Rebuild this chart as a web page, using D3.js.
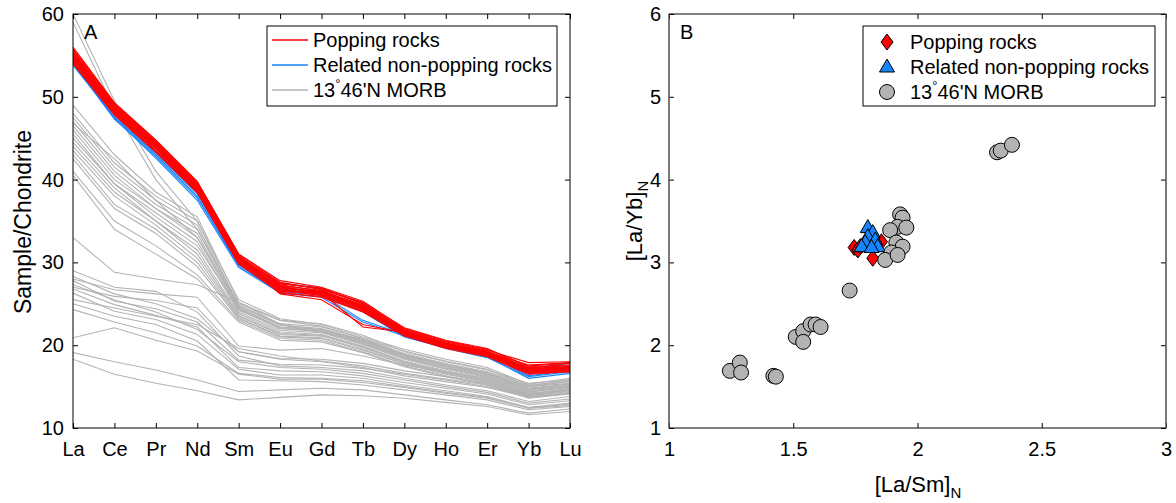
<!DOCTYPE html>
<html>
<head>
<meta charset="utf-8">
<script src="https://cdn.jsdelivr.net/npm/d3@7"></script>
<style>
  body { margin: 0; background: #fff; }
  text { font-family: "Liberation Sans", Arial, Helvetica, sans-serif; fill: #000; }
</style>
</head>
<body>
<svg id="chart" width="1176" height="503"></svg>
<script>
// ---- data ----
var elements = ["La", "Ce", "Pr", "Nd", "Sm", "Eu", "Gd", "Tb", "Dy", "Ho", "Er", "Yb", "Lu"];

// panel A: chondrite-normalized REE patterns
var poppingREE = [
    [56, 49.3, 44.8, 39.8, 31, 27.8, 27, 25.3, 22, 20.5, 19.5, 17.5, 17.8],
    [55.5, 49, 44.5, 39.5, 30.8, 27.5, 26.8, 25, 21.8, 20.3, 19.3, 17.3, 17.5],
    [55, 48.6, 44.2, 39.2, 30.5, 27.2, 26.6, 24.8, 21.6, 20.1, 19.1, 17.1, 17.3],
    [54.8, 48.4, 44, 39, 30.3, 27, 26.4, 24.6, 21.5, 20, 19, 17, 17.2],
    [54.5, 48.2, 43.8, 38.8, 30.1, 26.8, 26.2, 24.4, 21.4, 19.9, 18.9, 16.9, 17.1],
    [54.2, 48, 43.5, 38.6, 30, 26.6, 26, 24.2, 21.3, 19.8, 18.8, 16.8, 17],
    [54, 47.8, 43.3, 38.4, 29.8, 26.4, 25.8, 24, 21.2, 19.7, 18.7, 16.7, 16.9],
    [55.8, 49.2, 44.7, 39.7, 30.9, 26.5, 26.3, 22.2, 21.6, 20.2, 19.2, 17.2, 17.4],
    [55.2, 48.8, 44.3, 39.3, 30.6, 26.2, 25.5, 22.5, 21.5, 20, 19, 17, 17.2],
    [54.6, 48.3, 43.9, 38.9, 30.2, 26.9, 26.5, 24.7, 21.7, 20.2, 19.2, 17.6, 17.9],
    [55.3, 48.9, 44.4, 39.4, 30.7, 27.4, 26.9, 25.1, 21.9, 20.4, 19.4, 17.9, 18],
    [54.4, 48.1, 43.7, 38.7, 30, 27.1, 26.2, 24.5, 21.4, 19.9, 18.8, 16.6, 16.8],
    [55.7, 49.1, 44.6, 39.6, 31, 27.6, 26.7, 25.2, 22.1, 20.6, 19.6, 17.4, 17.6],
    [54.9, 48.5, 44.1, 39.1, 30.4, 26.7, 26.1, 24.3, 21.3, 19.8, 18.9, 16.7, 17],
    [54.1, 47.9, 43.4, 38.5, 29.9, 26.3, 25.9, 24.1, 21.1, 19.6, 18.6, 16.5, 16.8],
    [55.4, 48.7, 44.3, 39.3, 30.6, 27.3, 26.5, 24.9, 21.7, 20.2, 19.2, 17, 17.4],
    [54.7, 48.3, 43.9, 38.9, 30.2, 27.1, 26.3, 24.6, 21.5, 20, 18.9, 16.9, 17.2],
    [55.1, 48.7, 44.2, 39.2, 30.5, 26.9, 26.4, 24.7, 21.6, 20.1, 19.1, 17.2, 17.3]
];
var relatedREE = [
    [54.3, 47.5, 43, 38, 29.5, 26.5, 26, 24, 21, 19.7, 18.6, 16, 16.6],
    [54, 47.3, 42.8, 37.8, 29.7, 26.7, 26.2, 24.3, 21.2, 19.8, 18.8, 16.3, 17],
    [54.6, 48, 43.5, 38.7, 30.2, 27.2, 26.6, 24.7, 21.5, 20, 19, 16.8, 18],
    [53.8, 47.6, 43.2, 38.3, 29.8, 26.8, 26.1, 23, 21.3, 19.9, 18.7, 16.5, 17.5],
    [54.9, 48.3, 43.8, 38.9, 30.4, 27.5, 26.9, 25, 21.7, 20.2, 19.2, 17.2, 17.8],
    [54.2, 47.4, 42.6, 37.5, 29.4, 26.3, 25.8, 22.8, 21.1, 19.6, 18.5, 16.2, 16.8]
];
var morbREE = [
    [60, 49.5, 41, 35, 25.5, 23.2, 22.5, 21, 19.5, 18.3, 17.3, 15.3, 16],
    [59, 48.5, 40, 34, 25, 23, 22.3, 20.8, 19.3, 18.1, 17.1, 15.1, 15.8],
    [49, 43, 38.5, 35.5, 25.2, 23, 22.6, 21.2, 19.2, 18, 17, 15.4, 15.8],
    [48, 42, 38, 35, 24.8, 22.6, 22.2, 20.8, 19, 17.8, 16.8, 15.2, 15.6],
    [47.5, 41.5, 37.5, 34.5, 24.6, 22.4, 22, 20.6, 18.8, 17.6, 16.6, 15, 15.4],
    [47, 41, 37, 34, 24.5, 22.2, 21.9, 20.5, 18.7, 17.5, 16.5, 14.8, 15.3],
    [46.5, 40.5, 36.5, 33.5, 24.3, 22, 21.7, 20.3, 18.5, 17.3, 16.3, 14.6, 15.1],
    [46, 40, 36.5, 33, 24.2, 22.2, 21.8, 20.4, 18.6, 17.4, 16.4, 14.7, 15.2],
    [45.5, 39.5, 36, 32.5, 24, 21.8, 21.5, 20.1, 18.3, 17.1, 16.1, 14.4, 14.9],
    [45, 39.5, 35.5, 32, 24.4, 22.1, 21.6, 20.2, 18.4, 17.2, 16.2, 14.5, 15],
    [44.5, 39, 35, 31.5, 23.8, 21.6, 21.3, 19.9, 18.1, 16.9, 15.9, 14.2, 14.7],
    [44, 38.5, 35, 31, 23.6, 21.4, 21.2, 19.8, 18, 16.8, 15.8, 14.1, 14.6],
    [43.5, 38, 34.5, 30.5, 23.5, 21.3, 21.1, 19.7, 17.9, 16.7, 15.7, 14, 14.5],
    [43, 37, 34, 30, 23.3, 21.1, 20.9, 19.5, 17.8, 16.6, 15.6, 13.9, 14.4],
    [42.5, 36.5, 33.5, 29.5, 23.2, 21, 20.8, 19.4, 17.7, 16.5, 15.5, 13.8, 14.3],
    [41, 35, 32, 28.5, 23, 20.8, 20.6, 19.2, 17.5, 16.3, 15.3, 13.7, 14.2],
    [40.5, 34, 31, 28, 22.8, 20.6, 20.4, 19.1, 17.4, 16.2, 15.2, 13.6, 14.1],
    [46.8, 42.5, 37.5, 33, 24.8, 22.5, 21.8, 20.7, 18.9, 17.7, 16.7, 15, 15.6],
    [33, 28.8, 28, 27.3, 25.2, 22.5, 21.5, 20.5, 18.8, 17.6, 16.6, 14.8, 15.3],
    [29, 27, 26.5, 24, 18.7, 17.5, 17.3, 16.9, 16, 15.2, 14.5, 13.2, 13.8],
    [28.3, 26.2, 25, 23.2, 19.2, 18.3, 18, 17.3, 16.3, 15.6, 14.9, 13.7, 14.2],
    [27.8, 25.3, 24.4, 22.8, 18.2, 17.7, 17.6, 17.2, 16.5, 15.8, 15, 13.9, 14.6],
    [27.3, 25.5, 24, 21.9, 18, 17.3, 17.1, 16.6, 15.8, 15, 14.3, 13, 13.5],
    [26.8, 24.9, 23.6, 22.2, 17.3, 16.9, 16.8, 16.3, 15.5, 14.8, 14.1, 12.8, 13.3],
    [26.3, 24.1, 23.1, 21.3, 17.1, 16.4, 16.4, 16, 15.2, 14.5, 13.8, 12.5, 13],
    [25.5, 24.5, 23.5, 22.5, 19.6, 18.7, 18.1, 17.5, 16.6, 15.9, 15.2, 14, 14.7],
    [24.3, 22.8, 21.5, 19.9, 16.6, 16.1, 16, 15.7, 15, 14.3, 13.7, 12.4, 12.9],
    [20.9, 22.1, 20.6, 19.3, 16.5, 15.9, 15.9, 15.5, 14.9, 14.2, 13.6, 12.4, 12.7],
    [19.1, 18, 17, 15.8, 14.4, 14.6, 14.8, 14.6, 14, 13.4, 12.8, 11.8, 12.3],
    [28, 26.7, 26.2, 25.8, 19.9, 19.4, 19.6, 18.7, 17.6, 16.8, 16, 14.3, 15],
    [25, 23.5, 22.5, 20.5, 15.8, 15.7, 15.6, 15.2, 14.6, 14, 13.4, 12.2, 12.6],
    [18.3, 16.5, 15.4, 14.5, 13.4, 13.7, 14, 13.9, 13.6, 13.1, 12.6, 11.6, 12],
    [27, 25.9, 25.4, 24.5, 19.2, 18.4, 18.3, 17.8, 16.9, 16.2, 15.4, 14.1, 14.8]
];

// panel B: [La/Sm]N vs [La/Yb]N
var poppingLaSm = [1.745, 1.76, 1.77, 1.82, 1.855];
var poppingLaYb = [3.18, 3.15, 3.19, 3.05, 3.25];
var relatedLaSm = [1.80, 1.82, 1.80, 1.83, 1.79, 1.775, 1.84, 1.815];
var relatedLaYb = [3.42, 3.36, 3.31, 3.27, 3.24, 3.19, 3.19, 3.18];
var morbLaSm = [1.245, 1.285, 1.29, 1.42, 1.43, 1.51, 1.54, 1.54, 1.57, 1.59, 1.61,
                1.727, 1.93, 1.94, 1.92, 1.89, 1.955, 1.915, 1.94, 1.895, 1.87, 1.92,
                2.32, 2.335, 2.38];
var morbLaYb = [1.69, 1.79, 1.67, 1.63, 1.62, 2.10, 2.17, 2.04, 2.25, 2.25, 2.22,
                2.66, 3.58, 3.54, 3.43, 3.39, 3.42, 3.24, 3.19, 3.12, 3.03, 3.09,
                4.33, 4.35, 4.42];

var red = "#ff0000", blue = "#1584ff", grey = "#b3b3b3";

var svg = d3.select("#chart");

// ---- panel A ----
var xA = d3.scalePoint().domain(elements).range([73, 570]);
var yA = d3.scaleLinear().domain([10, 60]).range([428, 14]);

var line = d3.line()
    .x((d, i) => xA(elements[i]))
    .y(d => yA(d));

var ga = svg.append("g");
svg.append("clipPath").attr("id", "clipA")
    .append("rect").attr("x", 73).attr("y", 14).attr("width", 497).attr("height", 414);

var linesA = ga.append("g").attr("clip-path", "url(#clipA)");
linesA.selectAll(".morb").data(morbREE).enter().append("path")
    .attr("d", line).attr("fill", "none").attr("stroke", grey).attr("stroke-width", 1.1);
linesA.selectAll(".rel").data(relatedREE).enter().append("path")
    .attr("d", line).attr("fill", "none").attr("stroke", blue).attr("stroke-width", 1.1);
linesA.selectAll(".pop").data(poppingREE).enter().append("path")
    .attr("d", line).attr("fill", "none").attr("stroke", red).attr("stroke-width", 1.1);

function styleAxis(g) {
    g.select(".domain").remove();
    g.selectAll(".tick line").attr("stroke", "#000");
    g.selectAll(".tick text").style("font-size", "20px")
        .style("font-family", "'Liberation Sans', Arial, sans-serif");
}

ga.append("g").attr("transform", "translate(0,428)")
    .call(d3.axisBottom(xA).tickSizeInner(-5).tickSizeOuter(0).tickPadding(14))
    .call(styleAxis);
ga.append("g").attr("transform", "translate(0,14)")
    .call(d3.axisTop(xA).tickSizeInner(-5).tickSizeOuter(0).tickFormat(""))
    .call(styleAxis);
ga.append("g").attr("transform", "translate(73,0)")
    .call(d3.axisLeft(yA).tickValues([10, 20, 30, 40, 50, 60]).tickSizeInner(-5).tickSizeOuter(0).tickPadding(9))
    .call(styleAxis);
ga.append("g").attr("transform", "translate(570,0)")
    .call(d3.axisRight(yA).tickValues([10, 20, 30, 40, 50, 60]).tickSizeInner(-5).tickSizeOuter(0).tickFormat(""))
    .call(styleAxis);
ga.append("rect").attr("x", 73).attr("y", 14).attr("width", 497).attr("height", 414)
    .attr("fill", "none").attr("stroke", "#000").attr("stroke-width", 1);

ga.append("text").attr("x", 84).attr("y", 39).style("font-size", "20px").text("A");
ga.append("text")
    .attr("transform", "translate(31,222) rotate(-90)")
    .attr("text-anchor", "middle").style("font-size", "23px").text("Sample/Chondrite");

// legend A
var legA = ga.append("g");
legA.append("rect").attr("x", 267).attr("y", 26).attr("width", 290).attr("height", 80)
    .attr("fill", "#fff").attr("stroke", "#000");
var legAItems = [
    { c: red, t: "Popping rocks" },
    { c: blue, t: "Related non-popping rocks" },
    { c: grey, t: "13" }
];
legAItems.forEach(function (d, i) {
    var yy = 40 + i * 25;
    legA.append("line").attr("x1", 272).attr("x2", 308).attr("y1", yy).attr("y2", yy)
        .attr("stroke", d.c).attr("stroke-width", 1.5);
    var t = legA.append("text").attr("x", 313).attr("y", yy + 7).style("font-size", "20px");
    if (i < 2) {
        t.text(d.t);
    } else {
        t.append("tspan").text("13");
        t.append("tspan").attr("dy", -9).style("font-size", "13px").text("°");
        t.append("tspan").attr("dy", 9).text("46'N MORB");
    }
});

// ---- panel B ----
var xB = d3.scaleLinear().domain([1, 3]).range([669, 1166]);
var yB = d3.scaleLinear().domain([1, 6]).range([428, 14]);
var gb = svg.append("g");

var fmtB = d3.format("");
gb.append("g").attr("transform", "translate(0,428)")
    .call(d3.axisBottom(xB).tickValues([1, 1.5, 2, 2.5, 3]).tickFormat(fmtB).tickSizeInner(-5).tickSizeOuter(0).tickPadding(14))
    .call(styleAxis);
gb.append("g").attr("transform", "translate(0,14)")
    .call(d3.axisTop(xB).tickValues([1, 1.5, 2, 2.5, 3]).tickSizeInner(-5).tickSizeOuter(0).tickFormat(""))
    .call(styleAxis);
gb.append("g").attr("transform", "translate(669,0)")
    .call(d3.axisLeft(yB).ticks(6).tickSizeInner(-5).tickSizeOuter(0).tickPadding(8))
    .call(styleAxis);
gb.append("g").attr("transform", "translate(1166,0)")
    .call(d3.axisRight(yB).ticks(6).tickSizeInner(-5).tickSizeOuter(0).tickFormat(""))
    .call(styleAxis);
gb.append("rect").attr("x", 669).attr("y", 14).attr("width", 497).attr("height", 414)
    .attr("fill", "none").attr("stroke", "#000").attr("stroke-width", 1);
// vertical edges of panel B look grey in the original
gb.append("line").attr("x1", 669).attr("x2", 669).attr("y1", 14).attr("y2", 428).attr("stroke", "#777");
gb.append("line").attr("x1", 1166).attr("x2", 1166).attr("y1", 14).attr("y2", 428).attr("stroke", "#777");

gb.append("text").attr("x", 680).attr("y", 39).style("font-size", "20px").text("B");

var diamond = "M0,-8L6,0L0,8L-6,0Z";
var triangle = "M0,-8L7.5,5L-7.5,5Z";

var ptsPop = poppingLaSm.map((v, i) => [v, poppingLaYb[i]]);
var ptsRel = relatedLaSm.map((v, i) => [v, relatedLaYb[i]]);
var ptsMorb = morbLaSm.map((v, i) => [v, morbLaYb[i]]);

gb.selectAll(".dpop").data(ptsPop).enter().append("path")
    .attr("d", diamond)
    .attr("transform", d => "translate(" + xB(d[0]) + "," + yB(d[1]) + ")")
    .attr("fill", red).attr("stroke", "#000").attr("stroke-width", 1);
gb.selectAll(".drel").data(ptsRel).enter().append("path")
    .attr("d", triangle)
    .attr("transform", d => "translate(" + xB(d[0]) + "," + yB(d[1]) + ")")
    .attr("fill", blue).attr("stroke", "#000").attr("stroke-width", 1);
gb.selectAll(".dmorb").data(ptsMorb).enter().append("circle")
    .attr("cx", d => xB(d[0])).attr("cy", d => yB(d[1])).attr("r", 7.5)
    .attr("fill", grey).attr("stroke", "#000").attr("stroke-width", 1);

// axis titles B
var tx = gb.append("text").attr("x", 918).attr("y", 492).attr("text-anchor", "middle")
    .style("font-size", "22px");
tx.append("tspan").text("[La/Sm]");
tx.append("tspan").attr("dy", 6).style("font-size", "15px").text("N");

var ty = gb.append("text").attr("transform", "translate(642,221) rotate(-90)")
    .attr("text-anchor", "middle").style("font-size", "22px");
ty.append("tspan").text("[La/Yb]");
ty.append("tspan").attr("dy", 6).style("font-size", "15px").text("N");

// legend B
var legB = gb.append("g");
legB.append("rect").attr("x", 863).attr("y", 26).attr("width", 292).attr("height", 80)
    .attr("fill", "#fff").attr("stroke", "#000");
[0, 1, 2].forEach(function (i) {
    var yy = 42 + i * 25;
    var mk;
    if (i === 0) mk = legB.append("path").attr("d", diamond).attr("fill", red);
    else if (i === 1) mk = legB.append("path").attr("d", triangle).attr("fill", blue);
    else mk = legB.append("circle").attr("r", 7.5).attr("fill", grey);
    mk.attr("transform", "translate(887," + yy + ")").attr("stroke", "#000");
    var t = legB.append("text").attr("x", 910).attr("y", yy + 7).style("font-size", "20px");
    if (i === 0) t.text("Popping rocks");
    else if (i === 1) t.text("Related non-popping rocks");
    else {
        t.append("tspan").text("13");
        t.append("tspan").attr("dy", -9).style("font-size", "13px").text("°");
        t.append("tspan").attr("dy", 9).text("46'N MORB");
    }
});
</script>
</body>
</html>
